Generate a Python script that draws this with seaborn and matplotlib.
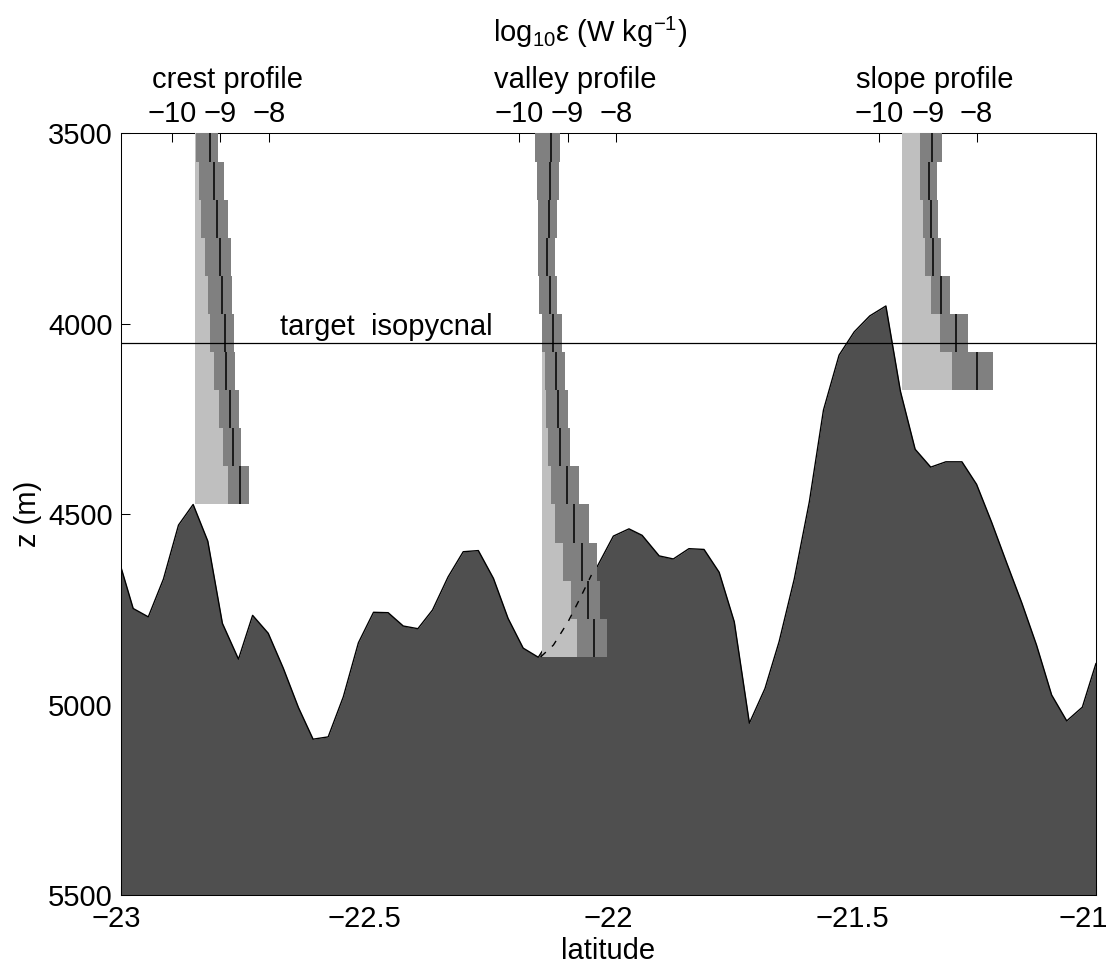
import numpy as np
import pandas as pd
import matplotlib
matplotlib.use("Agg")
import matplotlib.pyplot as plt
import matplotlib.transforms as mtransforms
import seaborn as sns

# ---------------- data ----------------
bathy_lat = [-23.000, -22.975, -22.944, -22.913, -22.882, -22.852, -22.822, -22.792,
             -22.759, -22.730, -22.698, -22.667, -22.636, -22.606, -22.575, -22.544,
             -22.513, -22.482, -22.452, -22.421, -22.391, -22.361, -22.329, -22.298,
             -22.267, -22.236, -22.206, -22.175, -22.144, -22.113, -22.082, -22.052,
             -22.024, -21.990, -21.958, -21.931, -21.896, -21.867, -21.835, -21.804,
             -21.773, -21.742, -21.711, -21.679, -21.650, -21.619, -21.588, -21.559,
             -21.527, -21.496, -21.464, -21.431, -21.401, -21.371, -21.339, -21.308,
             -21.275, -21.245, -21.214, -21.183, -21.152, -21.122, -21.091, -21.060,
             -21.028, -21.000]
bathy_depth = [4640, 4748, 4770, 4671, 4529, 4475, 4571, 4787,
               4881, 4766, 4813, 4905, 5008, 5091, 5085, 4980,
               4838, 4758, 4759, 4794, 4801, 4752, 4665, 4599,
               4596, 4669, 4774, 4852, 4876, 4815, 4755, 4694,
               4640, 4558, 4539, 4556, 4610, 4618, 4591, 4593,
               4653, 4783, 5049, 4958, 4835, 4671, 4468, 4227,
               4083, 4022, 3980, 3954, 4179, 4330, 4377, 4363,
               4363, 4422, 4522, 4629, 4734, 4844, 4975, 5043,
               5007, 4892]

eps_base = -9.52   # left edge of the light-grey bars (log10 eps)

crest_z = [3525, 3625, 3725, 3825, 3925, 4025, 4125, 4225, 4325, 4425]
crest_lo = [-9.496, -9.449, -9.394, -9.312, -9.251, -9.210, -9.129, -9.027, -8.951, -8.843]
crest_hi = [-9.041, -8.918, -8.849, -8.788, -8.761, -8.714, -8.694, -8.624, -8.584, -8.420]
crest_mean = [-9.216, -9.135, -9.067, -9.006, -8.971, -8.904, -8.878, -8.796, -8.747, -8.592]

valley_z = [3525, 3625, 3725, 3825, 3925, 4025, 4125, 4225, 4325, 4425,
            4525, 4625, 4725, 4825]
valley_lo = [-9.660, -9.625, -9.597, -9.597, -9.576, -9.528, -9.472, -9.438, -9.403, -9.347,
             -9.264, -9.090, -8.931, -8.799]
valley_hi = [-9.146, -9.181, -9.222, -9.264, -9.208, -9.118, -9.056, -9.000, -8.951, -8.764,
             -8.556, -8.403, -8.326, -8.201]
valley_mean = [-9.347, -9.361, -9.389, -9.417, -9.361, -9.306, -9.236, -9.201, -9.160, -9.021,
               -8.861, -8.694, -8.590, -8.465]
valley_model_eps = [-9.55, -9.29, -8.99, -8.75, -8.51]
valley_model_z = [4875, 4844, 4783, 4723, 4660]

slope_z = [3525, 3625, 3725, 3825, 3925, 4025, 4125]
slope_lo = [-9.157, -9.157, -9.096, -9.055, -8.933, -8.749, -8.504]
slope_hi = [-8.708, -8.810, -8.790, -8.729, -8.545, -8.178, -7.667]
slope_mean = [-8.912, -8.973, -8.939, -8.898, -8.729, -8.422, -7.988]

profile_names = ["crest profile", "valley profile", "slope profile"]
profile_lat_at_m9 = [-22.796, -22.084, -21.345]   # latitude where log10 eps = -9
deg_per_decade = 0.1
profile_ticks = [-10, -9, -8]
profile_ticklabels = ["\u221210", "\u22129", "\u22128"]

isopycnal_z = 4050
lat_ticks = [-23, -22.5, -22, -21.5, -21]
lat_ticklabels = ["\u221223", "\u221222.5", "\u221222", "\u221221.5", "\u221221"]
z_ticks = [3500, 4000, 4500, 5000, 5500]
z_ticklabels = ["3500", "4000", "4500", "5000", "5500"]

bin_height = 100
light_grey = "#bfbfbf"
dark_grey = "#808080"
seafloor = "#4f4f4f"

# ---------------- style ----------------
sns.set_style("white")
plt.rcParams["font.family"] = ["Liberation Sans", "DejaVu Sans"]
plt.rcParams["mathtext.fontset"] = "custom"
plt.rcParams["mathtext.rm"] = "Liberation Sans"
plt.rcParams["mathtext.it"] = "Liberation Sans"
for key in ["text.color", "axes.labelcolor", "xtick.color", "ytick.color",
            "xtick.labelcolor", "ytick.labelcolor"]:
    plt.rcParams[key] = "black"
FS = 21

fig = plt.figure(figsize=(11.15, 9.68), dpi=100)
ax = fig.add_axes([0.10852, 0.07541, 0.87444, 0.78719])

bathy = pd.DataFrame({"lat": bathy_lat, "depth": bathy_depth})
ax.fill_between(bathy["lat"], bathy["depth"], 5500, color=seafloor, lw=0, zorder=1)
sns.lineplot(data=bathy, x="lat", y="depth", color="black", lw=1.0, ax=ax,
             sort=False, zorder=2)

ax.set_xlim(-23, -21)
ax.set_ylim(5500, 3500)
ax.set_xticks(lat_ticks)
ax.set_xticklabels(lat_ticklabels)
ax.set_yticks(z_ticks)
ax.set_yticklabels(z_ticklabels)
ax.xaxis.set_ticks_position("bottom")
ax.yaxis.set_ticks_position("left")
ax.tick_params(axis="both", direction="in", length=6.5, width=0.75,
               labelsize=FS, color="black", labelcolor="black")
ax.tick_params(axis="x", pad=7)
ax.tick_params(axis="y", pad=6)
ax.set_xlabel("latitude", fontsize=FS, labelpad=3)
ax.set_ylabel("z (m)", fontsize=FS, labelpad=4)
for s in ax.spines.values():
    s.set_visible(True)
    s.set_color("black")
    s.set_linewidth(0.75)

# end labels sit slightly inward, as in the reference
xlabels = ax.get_xticklabels()
xlabels[0].set_transform(xlabels[0].get_transform() +
                         mtransforms.ScaledTranslation(-5 / 100, 0, fig.dpi_scale_trans))
xlabels[-1].set_transform(xlabels[-1].get_transform() +
                          mtransforms.ScaledTranslation(-13 / 100, 0, fig.dpi_scale_trans))

ax.text(-22.674, 4030, "target  isopycnal", fontsize=FS, ha="left", va="baseline")

profiles = [
    (crest_z, crest_lo, crest_hi, crest_mean),
    (valley_z, valley_lo, valley_hi, valley_mean),
    (slope_z, slope_lo, slope_hi, slope_mean),
]

twins = []
for i, (z, lo, hi, mean) in enumerate(profiles):
    tw = ax.twiny()
    left = -9 - (profile_lat_at_m9[i] + 23) / deg_per_decade
    tw.set_xlim(left, left + 2 / deg_per_decade)
    tw.set_ylim(5500, 3500)
    z = np.array(z, float)
    lo = np.array(lo); hi = np.array(hi); mean = np.array(mean)
    tw.barh(z, mean - eps_base, left=eps_base, height=bin_height,
            color=light_grey, lw=0, zorder=2)
    tw.barh(z, hi - lo, left=lo, height=bin_height, color=dark_grey, lw=0, zorder=3)
    tw.vlines(mean, z - bin_height / 2, z + bin_height / 2, color="black", lw=1.1, zorder=4)
    tw.set_xticks(profile_ticks)
    tw.set_xticklabels(profile_ticklabels)
    tw.xaxis.set_ticks_position("top")
    tw.tick_params(axis="x", direction="in", length=6.5, width=0.75, labelsize=FS, pad=3.5,
                   color="black", labelcolor="black")
    for s in tw.spines.values():
        s.set_visible(False)
    tw.text(-8.85, 1.059, profile_names[i], transform=mtransforms.blended_transform_factory(
        tw.transData, tw.transAxes), ha="center", va="baseline", fontsize=FS)
    twins.append(tw)

# dashed model curve in the valley profile
model = pd.DataFrame({"eps": valley_model_eps, "z": valley_model_z})
sns.lineplot(data=model, x="eps", y="z", ax=twins[1], color="black", lw=1.0,
             linestyle=(0, (5, 6)), sort=False, zorder=5)
twins[1].set_xlabel("")
twins[1].set_ylabel("")

# isopycnal line on top of everything
twins[2].axhline(isopycnal_z, color="black", lw=0.9, zorder=6)
twins[2].set_ylim(5500, 3500)

fig.text(0.529, 0.9566, r"log$_{\mathregular{10}}$ε (W kg$^{\mathregular{-1}}$)",
         fontsize=FS, ha="center", va="baseline")

fig.savefig("out.png", dpi=100)
